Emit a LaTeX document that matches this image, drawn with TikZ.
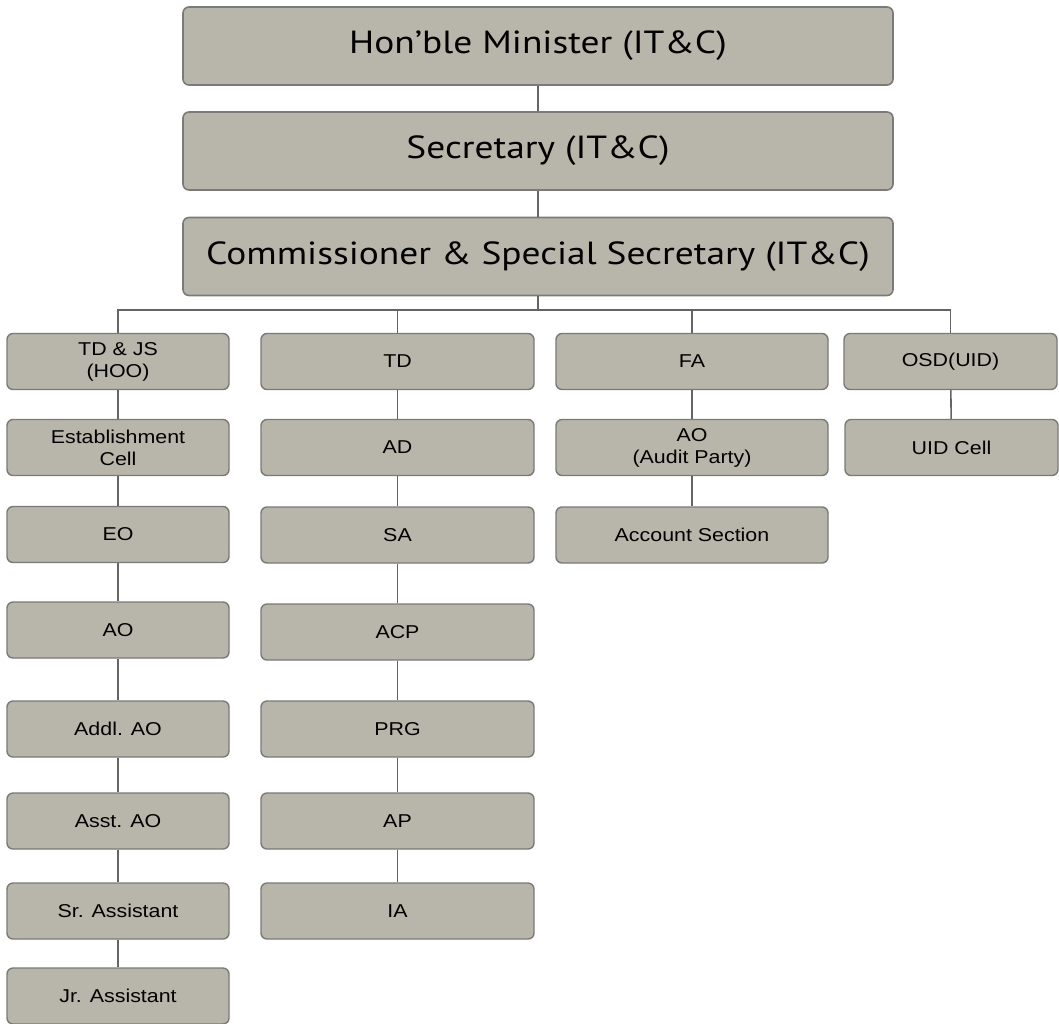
\documentclass[tikz,border=0pt]{standalone}
\usepackage{fontspec}
\newfontfamily\topfont[FakeStretch=1.17]{PT Sans}
\newfontfamily\boxfont[FakeStretch=1.15]{Liberation Sans}
\definecolor{boxfill}{RGB}{184,182,170}
\definecolor{boxline}{RGB}{122,122,120}
\definecolor{connline}{RGB}{100,100,98}
\begin{document}
\begin{tikzpicture}[x=1pt,y=-1pt,
  bigbox/.style={draw=boxline, line width=1.6pt, fill=boxfill, rounded corners=6pt,
    minimum width=710pt, minimum height=78pt, inner sep=0pt,
    font=\topfont\fontsize{32}{38}\selectfont},
  smallbox/.style={draw=boxline, line width=1.4pt, fill=boxfill, rounded corners=6pt,
    minimum height=56pt, inner sep=0pt, align=center,
    font=\boxfont\fontsize{18.6}{22}\selectfont},
  cola/.style={smallbox, minimum width=222pt},
  colb/.style={smallbox, minimum width=273pt},
  colc/.style={smallbox, minimum width=272pt},
  cold/.style={smallbox, minimum width=213pt},
  conn/.style={draw=connline, line width=1.6pt}]
\useasboundingbox (0,0) rectangle (1059,1023);
\fill[white] (0,0) rectangle (1059,1023);

% top
\node[bigbox] (min) at (538,46) {Hon’ble Minister (IT\&C)};
\node[bigbox] (sec) at (538,151) {Secretary (IT\&C)};
\node[bigbox] (com) at (538,256.5) {Commissioner \& Special Secretary (IT\&C)};

% column 1
\node[cola] (a1) at (118,361.5) {TD \& JS\\(HOO)};
\node[cola] (a2) at (118,447.5) {Establishment\\Cell};
\node[cola] (a3) at (118,534.5) {EO};
\node[cola] (a4) at (118,630) {AO};
\node[cola] (a5) at (118,729) {Addl. AO};
\node[cola] (a6) at (118,821) {Asst. AO};
\node[cola] (a7) at (118,911) {Sr. Assistant};
\node[cola] (a8) at (118,996) {Jr. Assistant};

% column 2
\node[colb] (b1) at (397.5,361.5) {TD};
\node[colb] (b2) at (397.5,447.5) {AD};
\node[colb] (b3) at (397.5,535) {SA};
\node[colb] (b4) at (397.5,632) {ACP};
\node[colb] (b5) at (397.5,729) {PRG};
\node[colb] (b6) at (397.5,821) {AP};
\node[colb] (b7) at (397.5,911) {IA};

% column 3
\node[colc] (c1) at (692,361.5) {FA};
\node[colc] (c2) at (692,447.5) {AO\\(Audit Party)};
\node[colc] (c3) at (692,535) {Account Section};

% column 4
\node[cold] (d1) at (950.5,361.5) {OSD(UID)};
\node[cold] (d2) at (951.5,447.5) {UID Cell};

% connectors
\coordinate (bus) at (538,310);
\draw[conn] (min) -- (sec);
\draw[conn] (sec) -- (com);
\draw[conn] (com.south) -- (bus);
\draw[conn] (bus) -| (a1.north);
\draw[conn] (bus) -| (b1.north);
\draw[conn] (bus) -| (c1.north);
\draw[conn] (bus) -| (d1.north);
\foreach \u/\v in {a1/a2,a2/a3,a3/a4,a4/a5,a5/a6,a6/a7,a7/a8,
                   b1/b2,b2/b3,b3/b4,b4/b5,b5/b6,b6/b7,
                   c1/c2,c2/c3,d1/d2}
  \draw[conn] (\u) -- (\v);
\end{tikzpicture}
\end{document}
